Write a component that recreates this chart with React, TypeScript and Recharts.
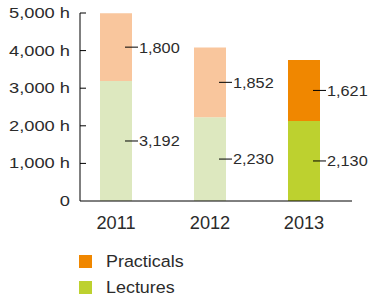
import React from 'react';
import { BarChart, Bar, XAxis, YAxis, Cell, LabelList, Legend } from 'recharts';

const years = ['2011', '2012', '2013'];
const lectures = [3192, 2230, 2130];
const practicals = [1800, 1852, 1621];
const yTicks = [0, 1000, 2000, 3000, 4000, 5000];

const lectureColors = ['#dde8bf', '#dde8bf', '#bdd12f'];
const practicalColors = ['#f9c69d', '#f9c69d', '#f08700'];

const data = years.map((y, i) => ({ year: y, lectures: lectures[i], practicals: practicals[i] }));

const FONT = '"Liberation Sans", Arial, sans-serif';
const TEXT = '#2b2b2b';

const fmt = (v: number) => (v === 0 ? '0' : v.toLocaleString('en-US') + ' h');

const YTick = (props: any) => {
  const { x, y, payload } = props;
  const axisX = x + 10;
  return (
    <g>
      {payload.value !== 0 && (
        <line x1={axisX} x2={axisX + 6} y1={y} y2={y} stroke="#000" strokeWidth={1} />
      )}
      <text
        transform={`translate(${x},${y}) scale(1.18,1)`}
        x={0}
        y={0}
        textAnchor="end"
        dominantBaseline="central"
        fontSize={15.5}
        fontFamily={FONT}
        fill={TEXT}
      >
        {fmt(payload.value)}
      </text>
    </g>
  );
};

const XTick = (props: any) => {
  const { x, y, payload } = props;
  return (
    <text
      transform={`translate(${x},${y}) scale(1.04,1)`}
      x={0}
      y={0}
      textAnchor="middle"
      dominantBaseline="central"
      fontSize={17.5}
      fontFamily={FONT}
      fill={TEXT}
    >
      {payload.value}
    </text>
  );
};

const ValueLabel = (props: any) => {
  const { x, y, width, height, value } = props;
  const cy = y + height / 2;
  const right = x + width;
  return (
    <g>
      <line x1={right - 7} x2={right + 6} y1={cy} y2={cy} stroke="#000" strokeWidth={1} />
      <text
        transform={`translate(${right + 7},${cy}) scale(1.05,1)`}
        x={0}
        y={0}
        dominantBaseline="central"
        fontSize={15.5}
        fontFamily={FONT}
        fill={TEXT}
      >
        {Number(value).toLocaleString('en-US')}
      </text>
    </g>
  );
};

const legendItems = [
  { name: 'Practicals', color: practicalColors[2] },
  { name: 'Lectures', color: lectureColors[2] },
];

const LegendContent = () => (
  <div style={{ height: 56, paddingLeft: 79, boxSizing: 'border-box', paddingTop: 13, fontFamily: FONT, fontSize: 16.3, color: TEXT }}>
    {legendItems.map((it) => (
      <div key={it.name} style={{ display: 'flex', alignItems: 'center', height: 26 }}>
        <span style={{ display: 'inline-block', width: 13, height: 13, background: it.color, marginRight: 14, marginTop: -12 }} />
        <span style={{ marginTop: -12, display: 'inline-block', transform: 'scaleX(1.1)', transformOrigin: 'left center' }}>{it.name}</span>
      </div>
    ))}
  </div>
);

export default function App() {
  return (
    <div style={{ position: 'absolute', left: 0, top: 0 }}>
      <BarChart width={369} height={297} data={data} margin={{ top: 13, right: 17, left: 0, bottom: 0 }}>
        <XAxis
          dataKey="year"
          height={40}
          tickLine={false}
          tickSize={0}
          tickMargin={22}
          axisLine={{ stroke: '#000' }}
          padding={{ left: -11, right: 1 }}
          tick={<XTick />}
        />
        <YAxis
          width={80}
          domain={[0, 5000]}
          ticks={yTicks}
          tickLine={false}
          tickSize={0}
          tickMargin={10}
          axisLine={{ stroke: '#000' }}
          tick={<YTick />}
          interval={0}
        />
        <Legend verticalAlign="bottom" align="left" content={<LegendContent />} />
        <Bar dataKey="lectures" stackId="a" barSize={32} isAnimationActive={false}>
          {data.map((_, i) => (
            <Cell key={i} fill={lectureColors[i]} />
          ))}
          <LabelList dataKey="lectures" content={<ValueLabel />} />
        </Bar>
        <Bar dataKey="practicals" stackId="a" barSize={32} isAnimationActive={false}>
          {data.map((_, i) => (
            <Cell key={i} fill={practicalColors[i]} />
          ))}
          <LabelList dataKey="practicals" content={<ValueLabel />} />
        </Bar>
      </BarChart>
    </div>
  );
}
